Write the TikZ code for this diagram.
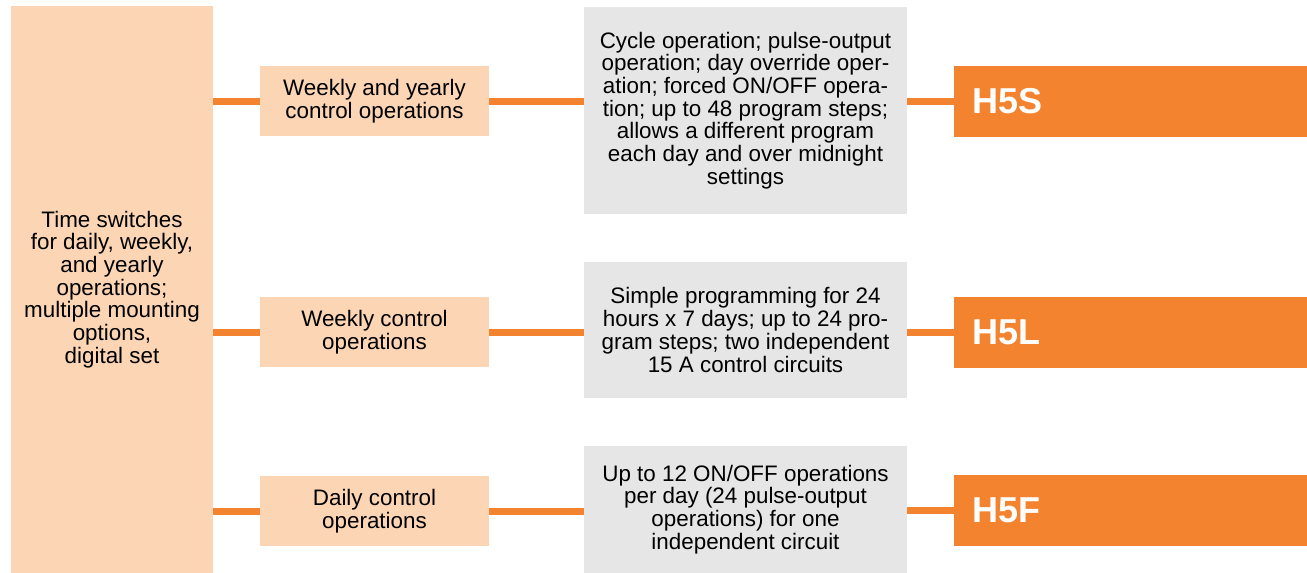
\documentclass[tikz,border=0pt]{standalone}
\usepackage{fontspec}
\setmainfont{Liberation Sans}
\usetikzlibrary{positioning}

\definecolor{peach}{HTML}{FCD5B5}
\definecolor{boxgray}{HTML}{E6E6E6}
\definecolor{hfive}{HTML}{F3832F}

\tikzset{
	txt/.style={inner sep=0pt, align=center,
		font=\fontsize{11.2}{11.35}\selectfont},
	mainbox/.style={txt, fill=peach, minimum width=101pt},
	opbox/.style={txt, fill=peach, minimum width=114.5pt, minimum height=35pt},
	descbox/.style={txt, fill=boxgray, minimum width=161.5pt},
	modelbox/.style={fill=hfive, text=white, inner xsep=9pt, inner ysep=0pt,
		text width=158.5pt, align=left, minimum height=35.5pt,
		font=\fontsize{18}{20}\selectfont\bfseries},
	link/.style={draw=hfive, line width=3.5pt}
}

\begin{document}
\begin{tikzpicture}[x=0.5pt, y=-0.5pt]
	\useasboundingbox (0,0) rectangle (1307,573);

	% left column
	\node[mainbox, minimum height=283.5pt] (timesw) at (112,289.5)
		{Time switches\\for daily, weekly,\\and yearly\\operations;\\multiple mounting\\options,\\digital set};

	% operation groups
	\node[opbox] (weekyear) at (374.5,101) {Weekly and yearly\\control operations};
	\node[opbox] (week) at (374.5,332) {Weekly control\\operations};
	\node[opbox] (daily) at (374.5,511) {Daily control\\operations};

	% descriptions
	\node[descbox, minimum height=103.5pt] (descS) at (745.5,110.5)
		{Cycle operation; pulse-output\\operation; day override oper-\\ation; forced ON/OFF opera-\\tion; up to 48 program steps;\\allows a different program\\each day and over midnight\\settings};
	\node[descbox, minimum height=68pt] (descL) at (745.5,330)
		{Simple programming for 24\\hours x 7 days; up to 24 pro-\\gram steps; two independent\\15 A control circuits};
	\node[descbox, minimum height=63.5pt] (descF) at (745.5,509.5)
		{Up to 12 ON/OFF operations\\per day (24 pulse-output\\operations) for one\\independent circuit};

	% models
	\node[modelbox] (hS) at (1130.5,101.5) {H5S};
	\node[modelbox] (hL) at (1130.5,332.5) {H5L};
	\node[modelbox] (hF) at (1130.5,510.5) {H5F};

	\draw[link] (timesw.east |- weekyear.west) -- (weekyear.west);
	\draw[link] (timesw.east |- week.west) -- (week.west);
	\draw[link] (timesw.east |- daily.west) -- (daily.west);

	\draw[link] (weekyear.east) -- (weekyear.east -| descS.west);
	\draw[link] (week.east) -- (week.east -| descL.west);
	\draw[link] (daily.east) -- (daily.east -| descF.west);

	\draw[link] (descS.east |- hS.west) -- (hS.west);
	\draw[link] (descL.east |- hL.west) -- (hL.west);
	\draw[link] (descF.east |- hF.west) -- (hF.west);
\end{tikzpicture}
\end{document}
